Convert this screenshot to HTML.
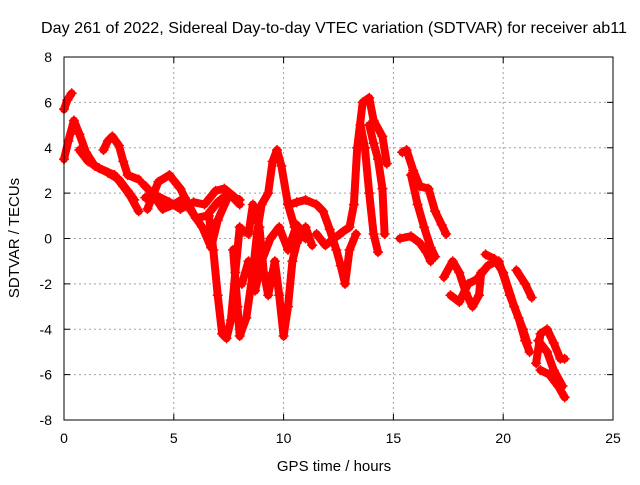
<!DOCTYPE html>
<html><head><meta charset="utf-8"><style>
body{margin:0;background:#fff;}
svg text{font-family:"Liberation Sans",sans-serif;fill:#000;}
</style></head><body>
<svg id="chart" width="640" height="480" xmlns="http://www.w3.org/2000/svg">
<text x="334" y="33" font-size="16" text-anchor="middle" textLength="586" lengthAdjust="spacingAndGlyphs">Day 261 of 2022, Sidereal Day-to-day VTEC variation (SDTVAR) for receiver ab11</text>
<text x="334" y="471" font-size="15" text-anchor="middle">GPS time / hours</text>
<text x="0" y="0" font-size="15" text-anchor="middle" transform="translate(19,238) rotate(-90)">SDTVAR / TECUs</text>
<g id="grid"></g>
<g id="ticks"></g>
<g id="series"></g>
<rect x="64" y="57" width="549" height="363" fill="none" stroke="#000" stroke-width="1"/>
</svg>
<script>
const xTicks=[0,5,10,15,20,25];
const yTicks=[-8,-6,-4,-2,0,2,4,6,8];
const track0=[[0,5.7],[0.15,6.1],[0.35,6.4]];
const track1=[[0,3.5],[0.2,4.3],[0.45,5.2],[0.7,4.6],[1.0,3.8],[1.4,3.2],[2.0,2.9],[2.5,2.6],[2.9,2.1],[3.2,1.7]];
const track2=[[0.7,3.9],[1.1,3.4],[1.6,3.1],[2.3,2.8],[2.7,2.3],[3.0,1.9],[3.4,1.2]];
const track3=[[1.8,3.9],[2.0,4.3],[2.2,4.5],[2.5,4.1],[2.7,3.4],[2.9,2.8],[3.4,2.6]];
const track4=[[3.6,2.4],[4.0,2.0],[4.5,1.3],[5.0,1.5],[5.5,1.8],[6.0,0.9],[6.5,1.0],[7.0,1.6],[7.5,2.0],[8.0,1.5]];
const track5=[[3.8,1.3],[4.3,2.5],[4.8,2.8],[5.3,2.2],[5.8,1.2],[6.3,0.5],[6.7,-0.4],[7.0,0.8],[7.5,1.9],[8.0,1.7]];
const track5b=[[3.7,1.8],[4.2,1.9],[4.8,1.6],[5.3,1.3],[5.9,1.6],[6.4,1.5],[6.9,2.1],[7.3,2.2],[7.8,1.8]];
const track6=[[6.6,1.0],[6.8,-0.5],[7.0,-2.5],[7.2,-4.2],[7.4,-4.4],[7.6,-3.6],[7.8,-1.5],[8.0,0.5],[8.2,0.3]];
const track7=[[7.7,-0.5],[7.9,-3.0],[8.0,-4.3],[8.3,-3.5],[8.6,-1.5],[8.8,0.3],[9.0,1.5],[9.3,2.0],[9.5,3.4],[9.7,3.9],[9.9,3.2],[10.2,1.5],[10.5,0.5]];
const track8=[[8.4,0.2],[8.6,1.5],[8.9,0.5],[9.1,-1.5],[9.3,-2.5],[9.6,-1.0],[9.8,-2.5],[10.0,-4.3],[10.2,-3.0],[10.4,-1.0],[10.6,-0.2],[11.0,0.5],[11.3,-0.3]];
const track8b=[[8.1,-2.0],[8.4,-1.0],[8.7,-2.3],[9.0,-1.0],[9.4,0.0],[9.8,0.5],[10.2,-0.5],[10.6,0.6],[11.0,0.0]];
const track9=[[10.3,1.5],[10.6,1.6],[11.0,1.7],[11.5,1.5],[11.8,1.2],[12.1,0.4],[12.4,-0.5],[12.6,-1.2],[12.8,-2.0],[13.0,-0.5],[13.3,0.2]];
const track10=[[11.5,0.2],[11.9,-0.3],[12.3,0.0],[12.7,0.3],[13.0,0.5],[13.2,1.5],[13.35,4.0],[13.6,6.0],[13.9,6.2],[14.1,5.2],[14.5,4.5],[14.7,3.3]];
const track11=[[13.5,5.0],[13.7,4.0],[13.9,2.0],[14.1,0.2],[14.3,-0.6]];
const track12=[[13.9,5.0],[14.1,4.2],[14.3,3.5],[14.5,2.2],[14.6,0.2]];
const track13=[[15.4,3.8],[15.6,3.9],[15.9,3.0],[16.2,2.3],[16.6,2.2],[16.9,1.2],[17.2,0.6],[17.4,0.2]];
const track14=[[15.8,2.8],[16.1,1.5],[16.4,0.5],[16.7,-0.4],[16.9,-0.8]];
const track15=[[15.3,0.0],[15.8,0.1],[16.2,-0.2],[16.5,-0.6],[16.7,-1.0]];
const track16=[[17.3,-1.7],[17.7,-1.0],[18.0,-1.5],[18.3,-2.4],[18.6,-3.0],[18.9,-2.5],[19.0,-1.5]];
const track17=[[17.6,-2.5],[18.0,-2.8],[18.4,-2.0],[18.8,-1.8],[19.3,-1.2],[19.7,-1.0]];
const track18=[[19.2,-0.7],[19.6,-0.9],[20.0,-1.5],[20.5,-3.0],[20.9,-4.0],[21.1,-4.6]];
const track19=[[19.8,-1.0],[20.3,-2.5],[20.7,-3.5],[21.0,-4.5],[21.2,-5.0]];
const track20=[[20.6,-1.4],[21.0,-2.0],[21.3,-2.6]];
const track21=[[21.5,-5.5],[21.7,-4.2],[22.0,-4.0],[22.3,-4.6],[22.6,-5.3],[22.8,-5.3]];
const track22=[[21.7,-5.8],[22.1,-6.0],[22.5,-6.5],[22.8,-7.0]];
const track23=[[21.6,-4.5],[22.0,-5.0],[22.3,-5.8],[22.7,-6.5]];
const tracks=[track0,track1,track2,track3,track4,track5,track5b,track6,track7,track8,track8b,track9,track10,track11,track12,track13,track14,track15,track16,track17,track18,track19,track20,track21,track22,track23];

const NS='http://www.w3.org/2000/svg';
const X0=64,X1=613,Y0=420,Y1=57;
function xs(h){return X0+(h-0)/(25-0)*(X1-X0);}
function ys(v){return Y0-(v+8)/16*(Y0-Y1);}
const grid=document.getElementById('grid'),ticks=document.getElementById('ticks'),series=document.getElementById('series');
function mk(tag,attrs,parent){const e=document.createElementNS(NS,tag);for(const k in attrs)e.setAttribute(k,attrs[k]);parent.appendChild(e);return e;}
xTicks.forEach(t=>{
  const x=xs(t);
  if(t>0&&t<25){const g=mk('line',{x1:x,x2:x,y1:Y1,y2:Y0,stroke:'#a0a0a0','stroke-dasharray':'2,3'},grid);
  
  }
  mk('line',{x1:x,x2:x,y1:Y0,y2:Y0-6,stroke:'#000'},ticks);mk('line',{x1:x,x2:x,y1:Y1,y2:Y1+6,stroke:'#000'},ticks);
  const tx=mk('text',{x:x,y:443,'font-size':14,'text-anchor':'middle'},ticks);tx.textContent=t;
  
  
});
yTicks.forEach(t=>{
  const y=ys(t);
  if(t>-8&&t<8){const g=mk('line',{x1:X0,x2:X1,y1:y,y2:y,stroke:'#a0a0a0','stroke-dasharray':'2,3'},grid);
  
  }
  mk('line',{x1:X0,x2:X0+6,y1:y,y2:y,stroke:'#000'},ticks);mk('line',{x1:X1,x2:X1-6,y1:y,y2:y,stroke:'#000'},ticks);
  const tx=mk('text',{x:52,y:y+5,'font-size':14,'text-anchor':'end'},ticks);tx.textContent=t;
  
  
});
tracks.forEach(tr=>{
  const pts=tr.map(p=>xs(p[0]).toFixed(1)+','+ys(p[1]).toFixed(1)).join(' ');
  const pl=mk('polyline',{points:pts,fill:'none',stroke:'#ff0000','stroke-width':8,'stroke-linejoin':'round','stroke-linecap':'round'},series);
  
  
  tr.forEach(p=>{
    const x=xs(p[0]),y=ys(p[1]);
    const m=mk('path',{d:`M${x-5},${y}H${x+5}M${x},${y-5}V${y+5}`,stroke:'#ff0000','stroke-width':1.5},series);
    
    
  });
});
</script>
</body></html>
